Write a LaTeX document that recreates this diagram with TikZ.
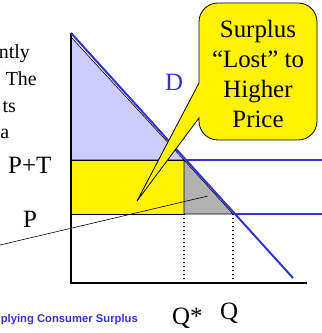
\documentclass[tikz,border=0pt]{standalone}
\usepackage{fontspec}
\setmainfont{Liberation Serif}
\newfontfamily\slidesans{Liberation Sans}
\definecolor{dblue}{RGB}{51,51,204}
\definecolor{lilac}{RGB}{204,204,255}
\definecolor{lostgray}{RGB}{178,178,178}
\usetikzlibrary{positioning}

\begin{document}
\begin{tikzpicture}[x=1bp, y=-1bp,
        axis/.style={line width=2bp},
        curve/.style={dblue, line width=2bp},
        area/.style={draw=black, line width=0.6bp},
        guide/.style={line width=1.4bp, dash pattern=on 1.4bp off 2.6bp},
        lbl/.style={inner sep=0pt, font=\fontsize{25}{30}\selectfont},
        cut/.style={inner sep=0pt, anchor=base east, font=\fontsize{20}{24}\selectfont}
    ]
        \useasboundingbox (0,0) rectangle (322,333);

        % points of the diagram
        \coordinate (ytop) at (71,33);
        \coordinate (origin) at (71,283);
        \coordinate (xend) at (307,283);
        \coordinate (dend) at (293,278);
        \coordinate (dpt) at (186,160);
        \coordinate (dp) at (235,214);
        \coordinate (qs) at (184,214);
        \coordinate (qq) at (233,214);
        \coordinate (qsaxis) at (184,283);
        \coordinate (qqaxis) at (233,283);
        \coordinate (ptend) at (322,160);
        \coordinate (pend) at (322,214);

        % shaded areas
        \filldraw[area, fill=lilac] (71,37) -- (184,160) -- (71,160) -- cycle;
        \filldraw[area, fill=yellow] (71,160) rectangle (184,214);
        \filldraw[area, fill=lostgray] (184,160) -- (qq) -- (qs) -- cycle;

        \draw[axis] (ytop) -- (origin) -- (xend);
        \draw[curve] (ytop) -- (dend);
        \draw[curve] (dpt) -- (ptend);
        \draw[curve] (dp) -- (pend);
        \draw[guide] (qs) -- (qsaxis);
        \draw[guide] (qq) -- (qqaxis);

        \node[lbl, anchor=base west, text=dblue] (dlabel) at (165,90) {D};
        \node[lbl, anchor=base west] (ptlabel) at (8,173) {P+T};
        \node[lbl, anchor=base west] (plabel) at (23,227) {P};
        \node[lbl, anchor=base west] (qslabel) at (172,324) {Q*};
        \node[lbl, anchor=base west] (qlabel) at (220,319) {Q};

        % text of the callout on the left, cut off by the page
        \node[cut] (line1) at (30,58) {ntly};
        \node[cut] (line2) at (37,85) {The};
        \node[cut] (line3) at (16,112) {ts};
        \node[cut] (line4) at (9.5,138) {a};
        \coordinate (leftfoot) at (0,245);
        \coordinate (lefttip) at (208,196);
        \draw[line width=0.6bp] (leftfoot) -- (lefttip);

        \node[inner sep=0pt, anchor=base east, text=dblue,
              font=\slidesans\bfseries\fontsize{11.3}{13}\selectfont] (footer) at (138,322) {plying Consumer Surplus};

        % callout
        \coordinate (losttip) at (137,201);
        \filldraw[fill=yellow, line width=0.8bp] (199,83) [rounded corners=19] -- (199,3) -- (317,3) -- (317,140) -- (199,140) [sharp corners] -- (199,118) -- (losttip) -- cycle;
        \node[lbl, align=center] (lost) at (258,74) {Surplus\\“Lost” to\\Higher\\Price};
    \end{tikzpicture}
\end{document}
